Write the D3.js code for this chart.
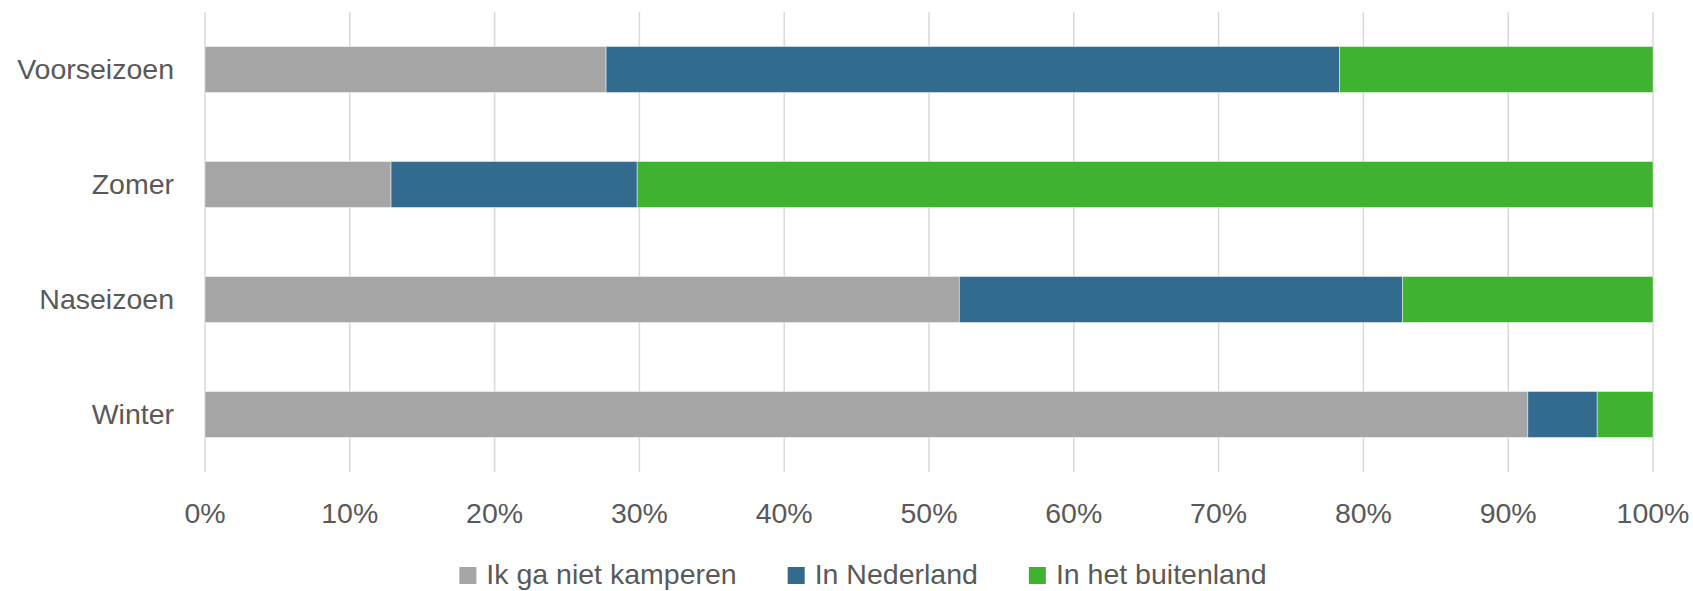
<!DOCTYPE html>
<html>
<head>
<meta charset="utf-8">
<script src="https://cdn.jsdelivr.net/npm/d3@7"></script>
<style>
  html, body { margin: 0; padding: 0; background: #fff; }
  svg { display: block; font-family: "Liberation Sans", Arial, sans-serif; }
</style>
</head>
<body>
<div id="chart"></div>
<script>
// Seasons (top to bottom)
const categories = ['Voorseizoen', 'Zomer', 'Naseizoen', 'Winter'];

// Series, share per season in %
const seriesNames = ['Ik ga niet kamperen', 'In Nederland', 'In het buitenland'];
const nietKamperen = [27.7, 12.85, 52.1, 91.35];
const inNederland = [50.65, 17.0, 30.6, 4.8];
const inBuitenland = [21.65, 70.15, 17.3, 3.85];

const xTicks = [0, 10, 20, 30, 40, 50, 60, 70, 80, 90, 100];
const colors = ['#a5a5a5', '#336b8e', '#3fb22f'];

const W = 1693, H = 591;
const margin = { top: 12, right: 40, bottom: 119, left: 205 };
const innerW = 1653 - margin.left;
const innerH = 472 - margin.top;

const svg = d3.select('#chart').append('svg')
  .attr('width', W)
  .attr('height', H);

const g = svg.append('g')
  .attr('transform', `translate(${margin.left},${margin.top})`);

const x = d3.scaleLinear().domain([0, 100]).range([0, innerW]);
const y = d3.scaleBand().domain(categories).range([0, innerH])
  .paddingInner(0.6).paddingOuter(0.3);

// Gridlines
g.selectAll('.grid')
  .data(xTicks)
  .enter()
  .append('line')
  .attr('class', 'grid')
  .attr('x1', d => x(d))
  .attr('x2', d => x(d))
  .attr('y1', 0)
  .attr('y2', innerH)
  .style('stroke', '#d9d9d9')
  .style('stroke-width', 1.5);

// Stack the series
const rows = categories.map((c, i) => ({
  cat: c,
  [seriesNames[0]]: nietKamperen[i],
  [seriesNames[1]]: inNederland[i],
  [seriesNames[2]]: inBuitenland[i]
}));
const stacked = d3.stack().keys(seriesNames)(rows);

stacked.forEach((layer, k) => {
  g.selectAll('.bar-' + k)
    .data(layer)
    .enter()
    .append('rect')
    .attr('class', 'bar-' + k)
    .attr('x', d => x(d[0]))
    .attr('y', d => y(d.data.cat))
    .attr('width', d => x(d[1]) - x(d[0]))
    .attr('height', y.bandwidth())
    .style('fill', colors[k])
    .style('stroke', 'rgba(255,255,255,0.45)')
    .style('stroke-width', 1);
});

// Category labels (left)
g.selectAll('.y-label')
  .data(categories)
  .enter()
  .append('text')
  .attr('class', 'y-label')
  .attr('x', -31)
  .attr('y', d => y(d) + y.bandwidth() / 2)
  .attr('dy', '0.35em')
  .attr('text-anchor', 'end')
  .style('font-size', '28.5px')
  .style('fill', '#595959')
  .text(d => d);

// X tick labels
g.selectAll('.x-label')
  .data(xTicks)
  .enter()
  .append('text')
  .attr('class', 'x-label')
  .attr('x', d => x(d))
  .attr('y', 523 - margin.top)
  .attr('text-anchor', 'middle')
  .style('font-size', '28.5px')
  .style('fill', '#595959')
  .text(d => d + '%');

// Legend
const legend = svg.append('g');
const items = legend.selectAll('.leg')
  .data(seriesNames)
  .enter()
  .append('g')
  .attr('class', 'leg');

items.append('rect')
  .attr('width', 17)
  .attr('height', 17)
  .attr('y', 567)
  .style('fill', (d, i) => colors[i]);

items.append('text')
  .attr('x', 27)
  .attr('y', 584)
  .style('font-size', '28.5px')
  .style('fill', '#595959')
  .text(d => d);

// place items side by side, centred
let offset = 0;
const positions = [];
items.each(function() {
  const w = this.querySelector('text').getComputedTextLength();
  positions.push(offset);
  offset += 27 + w + 51;
});
const total = offset - 51;
const start = 863 - total / 2;
items.attr('transform', (d, i) => `translate(${start + positions[i]},0)`);
</script>
</body>
</html>
